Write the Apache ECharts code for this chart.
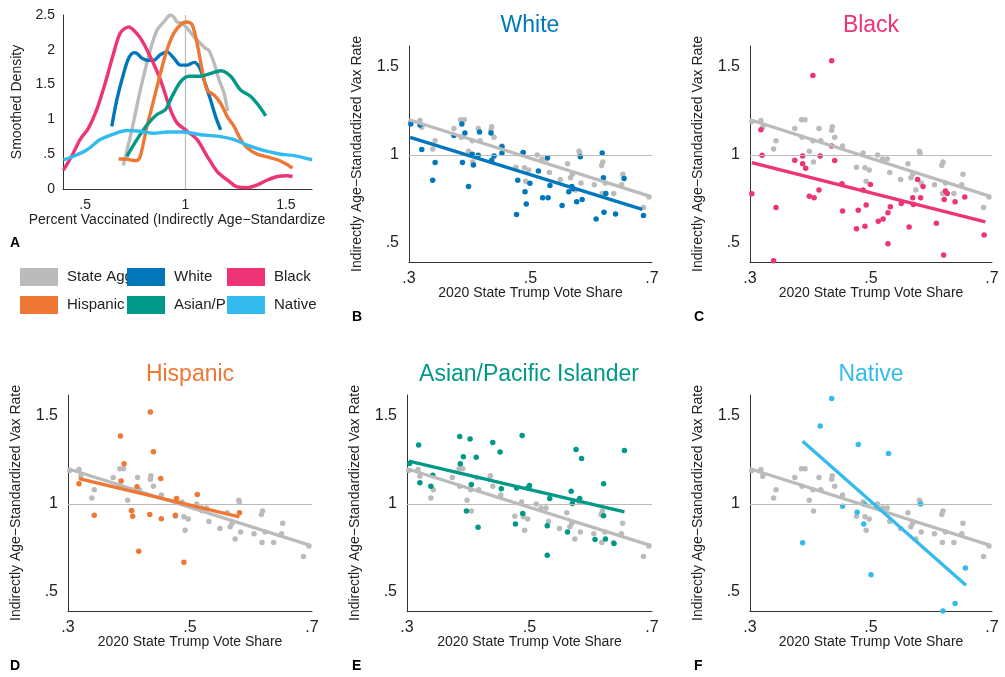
<!DOCTYPE html>
<html>
<head>
<meta charset="utf-8">
<script src="https://cdn.jsdelivr.net/npm/echarts@6/dist/echarts.min.js"></script>
<style>
  html, body { margin: 0; padding: 0; background: #fff; }
  #main { width: 1005px; height: 677px; }
</style>
</head>
<body>
<div id="main"></div>
<script>
// group names & colours (legend order)
const groups = ['State Agg.', 'White', 'Black', 'Hispanic', 'Asian/PI', 'Native'];
const colors = ['#bbbbbb', '#0077bb', '#ee3377', '#ee7733', '#009988', '#33bbee'];

// panel A: smoothed densities [percent vaccinated, density]
const stateDens = [[0.69,0.34],[0.70,0.45],[0.733,0.85],[0.775,1.42],[0.825,2.0],[0.858,2.28],[0.892,2.40],[0.925,2.50],[0.942,2.47],[0.958,2.40],[0.983,2.38],[1.008,2.31],[1.042,2.19],[1.075,2.09],[1.1,2.02],[1.117,1.99],[1.142,1.81],[1.167,1.57],[1.192,1.38],[1.21,1.12]];
const whiteDens = [[0.633,0.90],[0.658,1.28],[0.692,1.66],[0.717,1.88],[0.745,1.96],[0.758,1.95],[0.783,1.88],[0.808,1.85],[0.842,1.85],[0.875,1.93],[0.908,1.97],[0.942,1.88],[0.975,1.78],[1.008,1.78],[1.042,1.82],[1.067,1.76],[1.092,1.57],[1.125,1.28],[1.15,1.04],[1.175,0.85]];
const blackDens = [[0.392,0.27],[0.433,0.47],[0.475,0.71],[0.517,0.875],[0.558,1.14],[0.6,1.52],[0.642,1.95],[0.675,2.24],[0.717,2.33],[0.742,2.28],[0.775,2.17],[0.825,1.90],[0.875,1.57],[0.925,1.14],[0.958,0.95],[1.008,0.83],[1.058,0.71],[1.108,0.47],[1.158,0.25],[1.208,0.13],[1.258,0.03],[1.308,0.02],[1.358,0.06],[1.408,0.13],[1.458,0.18],[1.508,0.19],[1.533,0.18]];
const hispDens = [[0.667,0.43],[0.708,0.43],[0.742,0.41],[0.758,0.41],[0.775,0.47],[0.808,0.90],[0.842,1.28],[0.875,1.66],[0.908,2.0],[0.942,2.24],[0.983,2.38],[1.008,2.40],[1.033,2.36],[1.058,2.09],[1.083,1.71],[1.108,1.42],[1.142,1.35],[1.175,1.23],[1.208,1.04],[1.242,0.90],[1.275,0.71],[1.308,0.59],[1.358,0.50],[1.408,0.46],[1.458,0.42],[1.508,0.35],[1.533,0.30]];
const asianDens = [[0.708,0.47],[0.758,0.71],[0.808,0.92],[0.858,1.07],[0.9,1.14],[0.933,1.33],[0.975,1.54],[1.017,1.62],[1.075,1.62],[1.125,1.66],[1.175,1.70],[1.225,1.62],[1.275,1.42],[1.325,1.33],[1.367,1.19],[1.4,1.05]];
const nativeDens = [[0.392,0.42],[0.442,0.47],[0.508,0.56],[0.575,0.71],[0.642,0.79],[0.708,0.84],[0.775,0.83],[0.842,0.80],[0.908,0.82],[0.992,0.82],[1.075,0.78],[1.158,0.76],[1.242,0.71],[1.308,0.63],[1.392,0.55],[1.475,0.50],[1.542,0.48],[1.63,0.42]];

// state aggregate points [trump share, vax rate]
const statePts = [[0.303,1.19],[0.318,1.196],[0.321,1.158],[0.339,1.034],[0.343,1.08],[0.374,1.15],[0.385,1.20],[0.391,1.20],[0.386,1.10],[0.398,1.02],[0.404,1.08],[0.405,0.96],[0.414,1.15],[0.417,1.08],[0.436,1.16],[0.435,1.14],[0.440,1.10],[0.453,1.05],[0.476,0.93],[0.487,1.01],[0.490,0.926],[0.492,0.85],[0.497,0.914],[0.511,1.00],[0.519,0.977],[0.527,0.977],[0.531,0.90],[0.549,0.86],[0.561,0.95],[0.566,0.87],[0.569,0.89],[0.574,0.80],[0.580,1.02],[0.581,1.01],[0.583,0.84],[0.605,0.83],[0.617,0.94],[0.619,0.96],[0.618,0.78],[0.623,0.84],[0.637,0.78],[0.650,0.83],[0.652,0.89],[0.686,0.70],[0.695,0.76]];
const whitePts = [[0.303,1.176],[0.318,1.17],[0.321,1.03],[0.339,0.855],[0.343,0.956],[0.374,1.11],[0.387,1.176],[0.388,0.956],[0.392,1.124],[0.398,0.82],[0.404,1.004],[0.406,0.943],[0.414,0.998],[0.416,1.13],[0.435,1.124],[0.436,0.97],[0.440,0.994],[0.453,1.046],[0.453,1.01],[0.477,0.66],[0.479,0.855],[0.488,1.013],[0.491,0.79],[0.493,0.72],[0.499,0.838],[0.513,0.908],[0.520,0.756],[0.528,0.983],[0.529,0.756],[0.532,0.826],[0.552,0.712],[0.563,0.79],[0.568,0.82],[0.570,0.807],[0.576,0.733],[0.582,0.99],[0.585,0.746],[0.608,0.635],[0.618,1.01],[0.620,0.87],[0.621,0.674],[0.624,0.78],[0.640,0.664],[0.654,0.865],[0.686,0.655]];
const blackPts = [[0.303,0.779],[0.318,1.143],[0.320,0.998],[0.339,0.397],[0.343,0.70],[0.374,0.97],[0.387,0.95],[0.387,0.994],[0.392,0.924],[0.398,0.765],[0.404,1.452],[0.406,0.756],[0.414,0.80],[0.416,0.994],[0.435,1.536],[0.435,1.05],[0.440,0.968],[0.452,0.836],[0.453,0.68],[0.476,0.58],[0.479,0.685],[0.487,0.80],[0.490,0.594],[0.492,0.714],[0.499,0.832],[0.512,0.622],[0.520,0.635],[0.528,0.67],[0.528,0.494],[0.532,0.704],[0.550,0.723],[0.563,0.59],[0.569,0.756],[0.570,0.718],[0.577,0.86],[0.582,0.756],[0.586,0.82],[0.608,0.61],[0.620,0.43],[0.621,0.746],[0.623,0.794],[0.626,0.78],[0.639,0.733],[0.655,0.76],[0.687,0.544]];
const hispPts = [[0.318,1.114],[0.343,0.935],[0.386,1.386],[0.387,1.13],[0.392,1.228],[0.404,0.962],[0.406,0.93],[0.413,1.097],[0.416,0.73],[0.435,1.523],[0.434,0.94],[0.440,1.297],[0.452,1.144],[0.453,0.916],[0.476,0.935],[0.478,1.03],[0.490,0.667],[0.512,1.053],[0.520,0.962],[0.581,0.95]];
const asianPts = [[0.304,1.23],[0.319,1.335],[0.321,1.12],[0.339,1.10],[0.342,1.163],[0.386,1.384],[0.387,1.228],[0.392,1.268],[0.397,0.96],[0.403,1.37],[0.405,1.11],[0.413,1.266],[0.416,0.867],[0.440,1.35],[0.452,1.295],[0.454,1.086],[0.477,0.886],[0.479,1.091],[0.488,1.39],[0.489,0.945],[0.497,1.091],[0.500,1.105],[0.529,0.876],[0.529,0.707],[0.533,1.03],[0.562,0.84],[0.568,1.072],[0.570,1.002],[0.576,1.31],[0.582,1.03],[0.585,1.259],[0.607,0.797],[0.621,0.933],[0.621,1.114],[0.624,0.80],[0.638,0.774],[0.655,1.304]];
const nativePts = [[0.435,1.624],[0.435,1.60],[0.416,1.443],[0.479,1.338],[0.529,1.287],[0.453,0.987],[0.477,0.952],[0.490,0.996],[0.488,0.886],[0.387,0.778],[0.500,0.597],[0.582,1.0],[0.656,0.635],[0.639,0.432],[0.619,0.39]];

// linear fits (end points)
const stateFit = [[0.30,1.20],[0.697,0.764]];
const whiteFit = [[0.302,1.10],[0.684,0.69]];
const blackFit = [[0.303,0.956],[0.689,0.618]];
const hispFit = [[0.318,1.144],[0.581,0.926]];
const asianFit = [[0.303,1.243],[0.655,0.954]];
const nativeFit = [[0.387,1.357],[0.657,0.536]];

const FONT = 'Liberation Sans, Arial, Helvetica, sans-serif';
const chart = echarts.init(document.getElementById('main'));

// formatter like stata: .5 instead of 0.5
const fmt = v => {
  let s = String(Math.round(v * 10) / 10);
  if (s.startsWith('0.')) s = s.slice(1);
  return s;
};

// grid boxes for panels A..F
const grids = [
  { left: 63, top: 15, width: 249, height: 174 },
  { left: 409, top: 46, width: 243, height: 216 },
  { left: 750, top: 46, width: 242, height: 216 },
  { left: 68, top: 395, width: 244, height: 216 },
  { left: 407, top: 395, width: 245, height: 216 },
  { left: 750, top: 395, width: 242, height: 216 }
].map(g => Object.assign(g, { containLabel: false, outerBoundsMode: 'none' }));

const axisLine = { show: true, onZero: false, lineStyle: { color: '#333', width: 1 } };

let xAxis = [], yAxis = [], series = [];

// panel A
xAxis.push({
  type: 'value', gridIndex: 0, min: 0.39, max: 1.63,
  axisLine: axisLine, axisTick: { show: false }, splitLine: { show: false },
  axisLabel: { customValues: [0.5, 1, 1.5], formatter: fmt, fontSize: 14, color: '#222', fontFamily: FONT, margin: 9 },
  name: 'Percent Vaccinated (Indirectly Age\u2212Standardize', nameLocation: 'middle', nameGap: 24, nameMoveOverlap: false,
  nameTextStyle: { fontSize: 14, color: '#222', fontFamily: FONT, padding: [0, 21, 0, 0] }
});
yAxis.push({
  type: 'value', gridIndex: 0, min: 0, max: 2.5, interval: 0.5,
  axisLine: axisLine, axisTick: { show: false }, splitLine: { show: false },
  axisLabel: { formatter: fmt, fontSize: 14, color: '#222', fontFamily: FONT, margin: 8 },
  name: 'Smoothed Density', nameLocation: 'middle', nameGap: 39, nameMoveOverlap: false,
  nameTextStyle: { fontSize: 14, color: '#222', fontFamily: FONT }
});
const dens = [stateDens, whiteDens, blackDens, hispDens, asianDens, nativeDens];
dens.forEach((d, i) => {
  const s = {
    type: 'line', name: groups[i], xAxisIndex: 0, yAxisIndex: 0, data: d,
    smooth: 0.3, showSymbol: false, silent: true,
    itemStyle: { color: colors[i] }, lineStyle: { color: colors[i], width: 3.4 },
    z: 3 + i
  };
  if (i === 0) {
    s.markLine = { silent: true, symbol: 'none', label: { show: false }, z: 1,
      lineStyle: { color: '#bbbbbb', width: 1.2, type: 'solid' }, data: [{ xAxis: 1 }] };
  }
  series.push(s);
});

// scatter panels B..F
const pts = [whitePts, blackPts, hispPts, asianPts, nativePts];
const fits = [whiteFit, blackFit, hispFit, asianFit, nativeFit];
for (let p = 1; p <= 5; p++) {
  xAxis.push({
    type: 'value', gridIndex: p, min: 0.3, max: 0.7,
    axisLine: axisLine, axisTick: { show: false }, splitLine: { show: false },
    axisLabel: { customValues: [0.3, 0.5, 0.7], formatter: fmt, fontSize: 16, color: '#222', fontFamily: FONT, margin: 9 },
    name: '2020 State Trump Vote Share', nameLocation: 'middle', nameGap: 24, nameMoveOverlap: false,
    nameTextStyle: { fontSize: 14, color: '#222', fontFamily: FONT }
  });
  yAxis.push({
    type: 'value', gridIndex: p, min: 0.39, max: 1.62,
    axisLine: axisLine, axisTick: { show: false }, splitLine: { show: false },
    axisLabel: { customValues: [0.5, 1, 1.5], formatter: fmt, fontSize: 16, color: '#222', fontFamily: FONT, margin: 10 },
    name: 'Indirectly Age\u2212Standardized Vax Rate', nameLocation: 'middle', nameGap: 45, nameMoveOverlap: false,
    nameTextStyle: { fontSize: 14, color: '#222', fontFamily: FONT }
  });
  const c = colors[p];
  series.push({
    type: 'scatter', name: groups[0], xAxisIndex: p, yAxisIndex: p, data: statePts,
    symbolSize: 5.5, itemStyle: { color: colors[0], opacity: 1 }, silent: true, z: 2,
    markLine: { silent: true, symbol: 'none', label: { show: false },
      lineStyle: { color: '#bbbbbb', width: 1.2, type: 'solid' }, data: [{ yAxis: 1 }] }
  });
  series.push({
    type: 'scatter', name: groups[p], xAxisIndex: p, yAxisIndex: p, data: pts[p - 1],
    symbolSize: 5.5, itemStyle: { color: c, opacity: 1 }, silent: true, z: 3
  });
  series.push({
    type: 'line', name: groups[0], xAxisIndex: p, yAxisIndex: p, data: stateFit,
    showSymbol: false, silent: true, itemStyle: { color: colors[0] },
    lineStyle: { color: colors[0], width: 3.3 }, z: 4
  });
  series.push({
    type: 'line', name: groups[p], xAxisIndex: p, yAxisIndex: p, data: fits[p - 1],
    showSymbol: false, silent: true, itemStyle: { color: c },
    lineStyle: { color: c, width: 3.3 }, z: 5
  });
}

// legend: one component per item so columns line up like the original
const legX = [20, 127, 227];
const legY = [268, 296];
const legend = groups.map((g, i) => ({
  data: [g], left: legX[i % 3], top: legY[Math.floor(i / 3)], padding: 0,
  itemWidth: 38, itemHeight: 18, icon: 'rect', selectedMode: false, z: 10 + i,
  textStyle: { fontSize: 15, color: '#222', fontFamily: FONT, padding: [0, 0, 0, 4] }
}));

// panel titles
const titleText = ['White', 'Black', 'Hispanic', 'Asian/Pacific Islander', 'Native'];
const titleX = [530, 871, 190, 529, 871];
const titleY = [14, 14, 363, 363, 363];
const title = titleText.map((t, i) => ({
  text: t, left: titleX[i], top: titleY[i], textAlign: 'center', padding: 0,
  textStyle: { fontSize: 23, fontWeight: 'normal', color: colors[i + 1], fontFamily: FONT }
}));

// panel letters
const letters = ['A', 'B', 'C', 'D', 'E', 'F'];
const letterX = [10, 352, 694, 10, 352, 694];
const letterY = [236, 310, 310, 659, 659, 659];
const graphic = letters.map((l, i) => ({
  type: 'text', left: letterX[i], top: letterY[i],
  style: { text: l, fill: '#000', font: 'bold 14px ' + FONT }
}));

chart.setOption({
  animation: false,
  backgroundColor: '#fff',
  title: title,
  legend: legend,
  grid: grids,
  xAxis: xAxis,
  yAxis: yAxis,
  series: series,
  graphic: graphic
});
</script>
</body>
</html>
